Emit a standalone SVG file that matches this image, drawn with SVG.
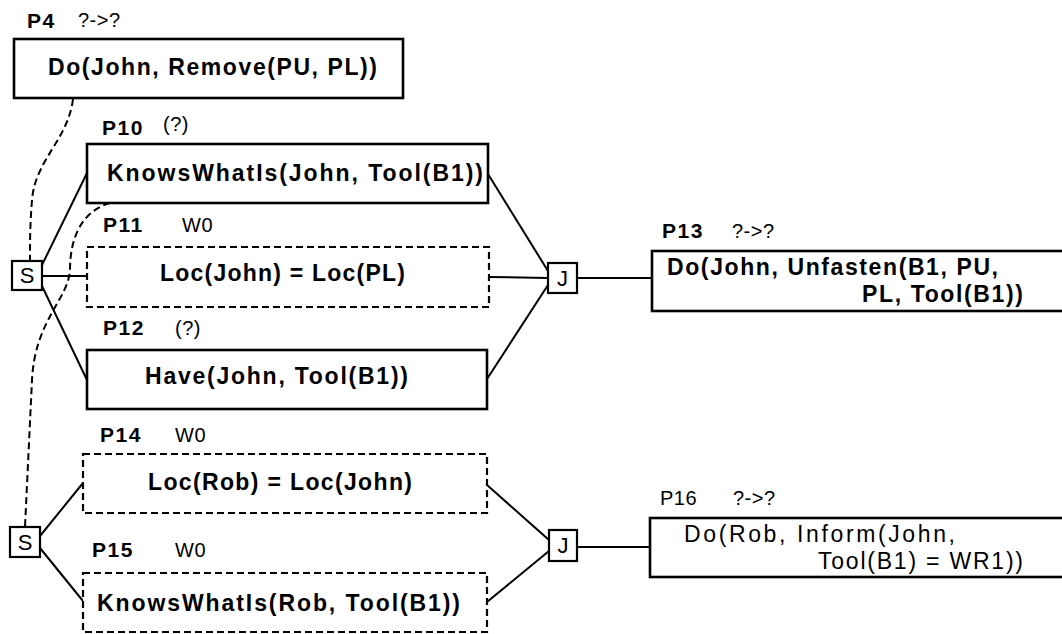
<svg xmlns="http://www.w3.org/2000/svg" width="1062" height="634" viewBox="0 0 1062 634">
<style>
.box{fill:#fff;stroke:#000;stroke-width:2.6}
.dbox{fill:#fff;stroke:#000;stroke-width:2.2;stroke-dasharray:7 4}
.op{fill:#fff;stroke:#000;stroke-width:2.2}
.ln{fill:none;stroke:#000;stroke-width:2}
.dl{fill:none;stroke:#000;stroke-width:2;stroke-dasharray:7 4}
text{font-family:"Liberation Sans",Arial,sans-serif;fill:#000}
.t{font-size:23px;font-weight:bold}
.tr{font-size:23px}
.lb{font-size:21px;font-weight:bold;letter-spacing:1.5px}
.lr{font-size:20px;font-weight:normal;letter-spacing:0.5px}
.o{font-size:22px}
</style>
<rect width="1062" height="634" fill="#fff"/>
<g id="connectors">
<path class="dl" d="M73,99 C68,140 35,160 32,200 C30,225 30,240 30,261"/>
<path class="dl" d="M110,203 C80,212 70,240 70,270 C68,300 35,320 32,380 L25,527"/>
<line class="ln" x1="42" y1="265" x2="87" y2="173"/>
<line class="ln" x1="42" y1="276" x2="87" y2="276"/>
<line class="ln" x1="42" y1="286" x2="87" y2="380"/>
<line class="ln" x1="488" y1="174" x2="548" y2="271"/>
<line class="ln" x1="489" y1="277" x2="548" y2="278"/>
<line class="ln" x1="487" y1="379" x2="548" y2="285"/>
<line class="ln" x1="577" y1="278" x2="652" y2="278"/>
<line class="ln" x1="40" y1="536" x2="83" y2="483"/>
<line class="ln" x1="40" y1="548" x2="83" y2="601"/>
<line class="ln" x1="487" y1="485" x2="549" y2="540"/>
<line class="ln" x1="487" y1="602" x2="549" y2="551"/>
<line class="ln" x1="577" y1="547" x2="650" y2="547"/>
</g>
<g id="P4">
<text class="lb" x="27" y="28">P4</text>
<text class="lr" x="78" y="27">?-&gt;?</text>
<rect class="box" x="14" y="39" width="389" height="59"/>
<text class="t" x="48" y="75" textLength="329" lengthAdjust="spacing">Do(John, Remove(PU, PL))</text>
</g>
<g id="P10">
<text class="lb" x="102" y="135">P10</text>
<text class="lr" x="163" y="131">(?)</text>
<rect class="box" x="87" y="144" width="401" height="59"/>
<text class="t" x="107" y="181" textLength="376" lengthAdjust="spacing">KnowsWhatIs(John, Tool(B1))</text>
</g>
<g id="P11">
<text class="lb" x="103" y="232">P11</text>
<text class="lr" x="182" y="232">W0</text>
<rect class="dbox" x="87" y="247" width="402" height="60"/>
<text class="t" x="160" y="281" textLength="245" lengthAdjust="spacing">Loc(John) = Loc(PL)</text>
</g>
<g id="P12">
<text class="lb" x="103" y="335">P12</text>
<text class="lr" x="175" y="335">(?)</text>
<rect class="box" x="87" y="350" width="400" height="59"/>
<text class="t" x="145" y="384" textLength="263" lengthAdjust="spacing">Have(John, Tool(B1))</text>
</g>
<g id="S1">
<rect class="op" x="12" y="261" width="30" height="29"/>
<text class="o" x="27" y="283" text-anchor="middle">S</text>
</g>
<g id="J1">
<rect class="op" x="548" y="263" width="29" height="30"/>
<text class="o" x="562.5" y="286" text-anchor="middle">J</text>
</g>
<g id="P13">
<text class="lb" x="662" y="238">P13</text>
<text class="lr" x="732" y="238">?-&gt;?</text>
<rect class="box" x="652" y="251" width="430" height="60"/>
<text class="t" x="667" y="275" textLength="331" lengthAdjust="spacing">Do(John, Unfasten(B1, PU,</text>
<text class="t" x="862" y="302" textLength="161" lengthAdjust="spacing">PL, Tool(B1))</text>
</g>
<g id="P14">
<text class="lb" x="100" y="442">P14</text>
<text class="lr" x="175" y="442">W0</text>
<rect class="dbox" x="83" y="454" width="404" height="59"/>
<text class="t" x="148" y="490" textLength="264" lengthAdjust="spacing">Loc(Rob) = Loc(John)</text>
</g>
<g id="S2">
<rect class="op" x="10" y="527" width="30" height="30"/>
<text class="o" x="25" y="550" text-anchor="middle">S</text>
</g>
<g id="P15">
<text class="lb" x="92" y="557">P15</text>
<text class="lr" x="175" y="557">W0</text>
<rect class="dbox" x="83" y="573" width="404" height="59"/>
<text class="t" x="97" y="611" textLength="363" lengthAdjust="spacing">KnowsWhatIs(Rob, Tool(B1))</text>
</g>
<g id="J2">
<rect class="op" x="549" y="530" width="28" height="31"/>
<text class="o" x="563" y="553" text-anchor="middle">J</text>
</g>
<g id="P16">
<text class="lr" x="660" y="505" font-size="21">P16</text>
<text class="lr" x="733" y="505">?-&gt;?</text>
<rect class="box" x="650" y="518" width="430" height="59"/>
<text class="tr" x="684" y="542" textLength="271" lengthAdjust="spacing">Do(Rob, Inform(John,</text>
<text class="tr" x="818" y="569" textLength="205" lengthAdjust="spacing">Tool(B1) = WR1))</text>
</g>
</svg>
